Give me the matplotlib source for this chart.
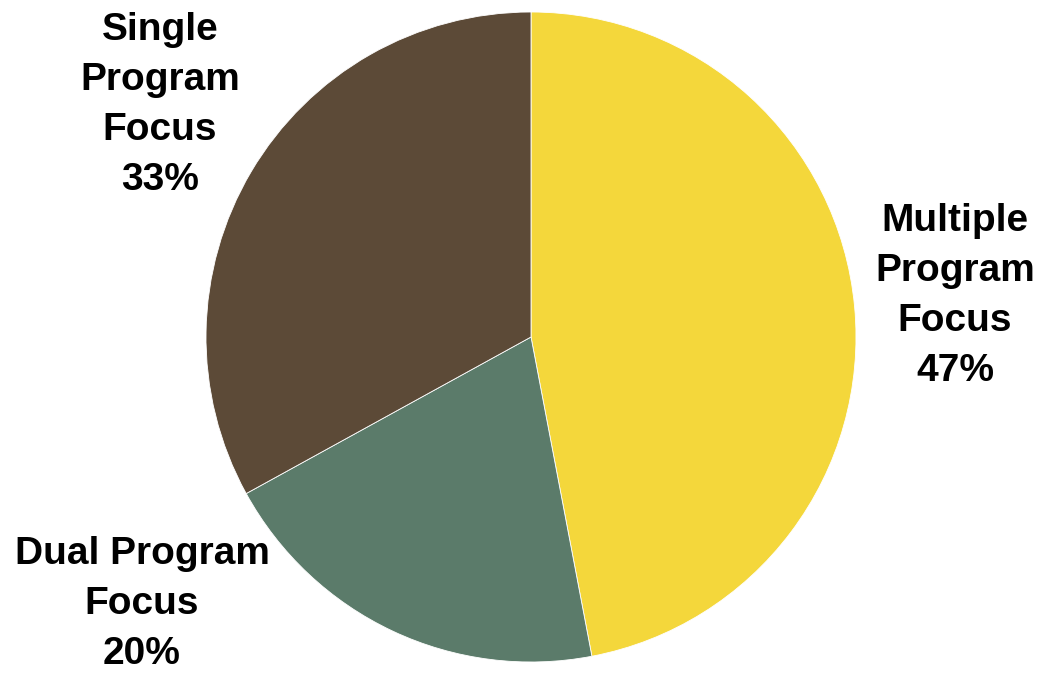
import matplotlib
matplotlib.use('Agg')
import matplotlib.pyplot as plt

plt.rcParams['font.family'] = ['Liberation Sans', 'DejaVu Sans']

# Данные
labels = ['Multiple\nProgram\nFocus', 'Dual Program\nFocus', 'Single\nProgram\nFocus']
shares = [47, 20, 33]
colors = ['#F4D73B', '#5B7B6A', '#5C4A37']

fig = plt.figure(figsize=(10.42, 6.74), dpi=100, facecolor='white')
ax = fig.add_axes([206 / 1042, 12 / 674, 650 / 1042, 650 / 674])

wedges, _ = ax.pie(shares, colors=colors, startangle=90, counterclock=False,
                   radius=1.0, wedgeprops=dict(edgecolor='white', linewidth=0.6))
ax.set_xlim(-1, 1)
ax.set_ylim(-1, 1)
ax.set_aspect('equal')
ax.axis('off')

# Подписи в пикселях (от верхнего левого угла)
label_pos = [(955, 296), (142, 604), (160, 105)]
for lab, val, (px, py) in zip(labels, shares, label_pos):
    fig.text(px / 1042, 1 - py / 674, f'{lab}\n{val}%', ha='center', va='center',
             fontsize=28, fontweight='bold', color='black', linespacing=1.5)

fig.savefig('out.png', dpi=100, facecolor='white')
